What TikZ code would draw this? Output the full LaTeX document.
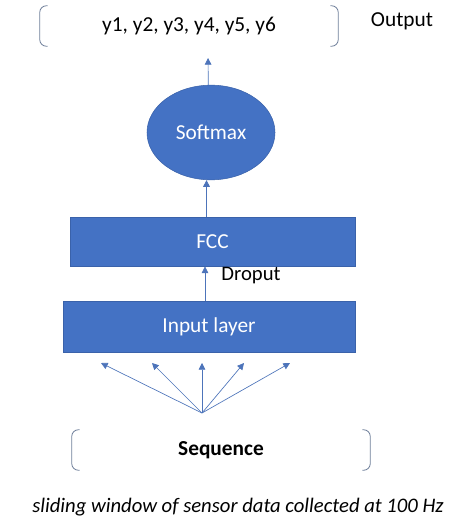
\documentclass[tikz,border=0pt]{standalone}
\usepackage{fontspec}
\setmainfont{Carlito}
\usepackage{tikz}
\usetikzlibrary{calc}
\usetikzlibrary{shapes.geometric}
\usetikzlibrary{arrows.meta}

\definecolor{layerblue}{HTML}{4472C4}
\definecolor{layeredge}{HTML}{3A62AA}
\definecolor{brakgray}{HTML}{6F7F9A}

\tikzset{
    layer/.style={draw=layeredge,fill=layerblue,text=white,font=\fontsize{16}{19}\selectfont,inner sep=0pt},
    arr/.style={draw=layerblue!85!gray,line width=0.5pt,-{Triangle[length=5pt,width=5pt]}},
    brak/.style={draw=brakgray,line width=0.6pt,rounded corners=5pt},
    plain/.style={font=\fontsize{16}{19}\selectfont,inner sep=0pt}
}

\begin{document}
\begin{tikzpicture}[x=0.75pt,y=-0.75pt]
    \useasboundingbox (0,0) rectangle (461,531);

    % Output group
    \node[plain,minimum width=223.5pt,minimum height=30pt] (outbox) at (189,26) {y1, y2, y3, y4, y5, y6};
    \node[plain] (outlbl) at (402,21) {Output};
    \draw[brak] ([xshift=6pt]outbox.north west) -- (outbox.north west) -- (outbox.south west) -- ([xshift=6pt]outbox.south west);
    \draw[brak] ([xshift=-6pt]outbox.north east) -- (outbox.north east) -- (outbox.south east) -- ([xshift=-6pt]outbox.south east);

    % Layers
    \node[layer,ellipse,minimum width=96pt,minimum height=71pt] (soft) at (211,132.5) {Softmax};
    \node[layer,rectangle,minimum width=213.75pt,minimum height=37pt] (fcc) at (212.5,241.5) {FCC};
    \node[layer,rectangle,minimum width=219pt,minimum height=38pt] (inp) at (209,326.5) {Input layer};
    \node[plain,font=\fontsize{15.5}{18}\selectfont] (drop) at (251,276) {Droput};

    % Sequence group
    \node[plain,font=\fontsize{16}{19}\selectfont\bfseries,minimum width=223.5pt,minimum height=30pt] (seq) at (221,450) {Sequence};
    \draw[brak] ([xshift=6pt]seq.north west) -- (seq.north west) -- (seq.south west) -- ([xshift=6pt]seq.south west);
    \draw[brak] ([xshift=-6pt]seq.north east) -- (seq.north east) -- (seq.south east) -- ([xshift=-6pt]seq.south east);
    \node[plain,font=\fontsize{15.5}{18}\selectfont\itshape] (cap) at (238,507) {sliding window of sensor data collected at 100 Hz};

    % Arrows between layers
    \coordinate (outarr) at (208,58);
    \draw[arr] ([xshift=-2pt]soft.north) -- (outarr);
    \draw[arr] ([xshift=-4.5pt]fcc.north) -- ([xshift=-4.5pt]fcc.north |- soft.south);
    \draw[arr] ([xshift=-3pt]inp.north) -- ([xshift=-3pt]inp.north |- fcc.south);

    % Fan into input layer
    \coordinate (src) at (202,413);
    \coordinate (t1) at (101,363);
    \coordinate (t2) at (152,363);
    \coordinate (t3) at (202,363);
    \coordinate (t4) at (244,363);
    \coordinate (t5) at (290,363);
    \foreach \t in {t1,t2,t3,t4,t5}
        \draw[arr] (src) -- (\t);

\end{tikzpicture}
\end{document}
